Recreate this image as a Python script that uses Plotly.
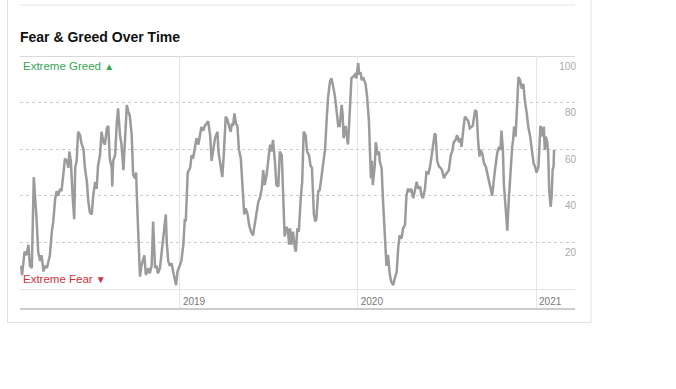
import plotly.graph_objects as go

# ---- data (CNN Fear & Greed index) ----
dates_2018 = ["2018-02-09","2018-02-11","2018-02-16","2018-02-20","2018-02-24","2018-02-27","2018-03-03","2018-03-07","2018-03-13","2018-03-16",
              "2018-03-20","2018-03-23","2018-03-27","2018-03-30","2018-04-03","2018-04-06","2018-04-09","2018-04-13","2018-04-16","2018-04-20",
              "2018-04-23","2018-04-26","2018-04-30","2018-05-03","2018-05-07","2018-05-10","2018-05-14","2018-05-17","2018-05-19","2018-05-22",
              "2018-05-26","2018-05-29","2018-05-31","2018-06-03","2018-06-06","2018-06-10","2018-06-13","2018-06-17","2018-06-20","2018-06-24",
              "2018-06-27","2018-06-30","2018-07-04","2018-07-07","2018-07-11","2018-07-14","2018-07-17","2018-07-21","2018-07-24","2018-07-28",
              "2018-07-31","2018-08-04","2018-08-07","2018-08-10","2018-08-14","2018-08-15","2018-08-17","2018-08-21","2018-08-24","2018-08-27",
              "2018-08-31","2018-09-03","2018-09-07","2018-09-10","2018-09-14","2018-09-17","2018-09-20","2018-09-24","2018-09-27","2018-10-01",
              "2018-10-03","2018-10-06","2018-10-09","2018-10-11","2018-10-14","2018-10-20","2018-10-23","2018-10-28","2018-10-31","2018-11-04",
              "2018-11-07","2018-11-11","2018-11-14","2018-11-17","2018-11-21","2018-11-24","2018-11-28","2018-12-03","2018-12-05","2018-12-08",
              "2018-12-11","2018-12-15","2018-12-18","2018-12-22","2018-12-24","2018-12-27"]
values_2018 = [10,6,16,14.5,19,10,9,48,29,16,
               12,14.5,7.5,10,9,12,14.5,24.5,29,39,
               42,40,43,42,52,56,55,52,59,55,
               39,30,52,55,67.5,66,62.5,60,52,46,
               37.5,33,32,40,46,43,53,57.5,67.5,63,
               62,69,70,56,52,44,55,57.5,70,77.5,
               66,62,51,62,79,76,74.5,66,49,47.5,
               50,32,14.5,5.3,10,14.5,6,9,6.7,10,
               29,9,10,6.7,9,14.5,23,32,20,12,
               10,11,7.5,3,1.7,7.5]

dates_2019 = ["2019-01-01","2019-01-04","2019-01-08","2019-01-11","2019-01-13","2019-01-17","2019-01-22","2019-01-25","2019-01-28","2019-02-01",
              "2019-02-04","2019-02-08","2019-02-11","2019-02-14","2019-02-18","2019-02-21","2019-02-28","2019-03-04","2019-03-07","2019-03-10",
              "2019-03-14","2019-03-19","2019-03-21","2019-03-24","2019-03-29","2019-04-01","2019-04-05","2019-04-08","2019-04-12","2019-04-15",
              "2019-04-18","2019-04-20","2019-04-23","2019-04-26","2019-04-29","2019-05-02","2019-05-06","2019-05-09","2019-05-11","2019-05-13",
              "2019-05-16","2019-05-20","2019-05-23","2019-05-27","2019-05-31","2019-06-04","2019-06-07","2019-06-11","2019-06-14","2019-06-18",
              "2019-06-21","2019-06-24","2019-06-28","2019-07-01","2019-07-05","2019-07-08","2019-07-11","2019-07-15","2019-07-18","2019-07-22",
              "2019-07-25","2019-07-29","2019-08-01","2019-08-04","2019-08-08","2019-08-11","2019-08-13","2019-08-15","2019-08-18","2019-08-21",
              "2019-08-25","2019-08-27","2019-08-30","2019-09-02","2019-09-06","2019-09-09","2019-09-12","2019-09-16","2019-09-19","2019-09-23",
              "2019-09-26","2019-09-29","2019-10-03","2019-10-06","2019-10-08","2019-10-12","2019-10-15","2019-10-19","2019-10-22","2019-10-26",
              "2019-10-29","2019-11-01","2019-11-05","2019-11-08","2019-11-11","2019-11-15","2019-11-18","2019-11-22","2019-11-25","2019-11-29",
              "2019-12-01","2019-12-03","2019-12-07","2019-12-10","2019-12-12","2019-12-16","2019-12-19","2019-12-22","2019-12-26","2019-12-29"]
values_2019 = [10,12,19,30,29,50,52,57.5,56,62,
               64.7,62,65,69.5,68,70,72,66,55,59,
               64.7,67.5,59,55,48,57.5,74,73,69,67.5,
               71,70,75.4,71,70,60,56,43,39,32,
               34.6,32,27.5,24.6,23,29,33,37.5,39,43,
               51,44.6,49,56,62,59,64,55,44.6,44,
               59,57.5,43,22.5,26.7,24.6,19,26,19,24.6,
               17.5,16,26,24.6,39,46,67.5,66,59,57.5,
               53,52,32,29,30,42,42.5,49,55,60,
               72,82,89,90.4,87.6,83,77.5,70,70,79,
               74.7,64.7,70,66,62,77.5,90.4,91,92,90.4]

dates_2020 = ["2020-01-02","2020-01-04","2020-01-07","2020-01-09","2020-01-13","2020-01-17","2020-01-20","2020-01-24","2020-01-26","2020-01-28",
              "2020-01-30","2020-02-01","2020-02-05","2020-02-07","2020-02-11","2020-02-14","2020-02-15","2020-02-19","2020-02-22","2020-02-26",
              "2020-02-29","2020-03-03","2020-03-07","2020-03-10","2020-03-14","2020-03-17","2020-03-21","2020-03-24","2020-03-27","2020-03-31",
              "2020-04-03","2020-04-07","2020-04-10","2020-04-13","2020-04-17","2020-04-20","2020-04-24","2020-04-27","2020-05-01","2020-05-04",
              "2020-05-08","2020-05-11","2020-05-14","2020-05-18","2020-05-21","2020-05-25","2020-05-28","2020-06-01","2020-06-04","2020-06-07",
              "2020-06-09","2020-06-12","2020-06-16","2020-06-19","2020-06-22","2020-06-26","2020-06-29","2020-07-03","2020-07-06","2020-07-10",
              "2020-07-13","2020-07-16","2020-07-20","2020-07-23","2020-07-27","2020-07-30","2020-08-01","2020-08-05","2020-08-08","2020-08-12",
              "2020-08-15","2020-08-18","2020-08-24","2020-08-29","2020-09-01","2020-09-04","2020-09-07","2020-09-09","2020-09-13","2020-09-16",
              "2020-09-20","2020-09-23","2020-09-26","2020-09-30","2020-10-03","2020-10-07","2020-10-10","2020-10-13","2020-10-17","2020-10-20",
              "2020-10-22","2020-10-25","2020-10-27","2020-10-31","2020-11-03","2020-11-06","2020-11-10","2020-11-13","2020-11-15","2020-11-17",
              "2020-11-20","2020-11-24","2020-11-26","2020-11-29","2020-12-03","2020-12-06","2020-12-09","2020-12-13","2020-12-16","2020-12-20",
              "2020-12-23","2020-12-27","2020-12-30"]
values_2020 = [97,92,93,89.7,90.4,88,83,72,60,47.5,
               55,44.6,53,63,57.5,59,55,52,37.5,23,
               10,14.6,6,3,1.7,4.6,7.4,17.5,23,21.7,
               26,27.5,40,43,42,43,39,42,46,43,
               44,40,39,43,50,49.6,52,57.5,63,66.8,
               66,55,52.5,52,51,47.5,49,50,51,57.5,
               59,63,64,66,63,64.7,61,69,74,73,
               72,69,70,76.8,76,64,56.8,59.7,58,54,
               52.5,49.6,46.8,44,40,48,54,58,61,59.7,
               68,59.7,45,34,25,38,52.5,61,64,69.7,
               65.4,79.7,91,89.7,86,88,81,75.4,69.7,65.4,
               59.7,54,52.5]

dates_2021 = ["2021-01-02","2021-01-06","2021-01-08","2021-01-10","2021-01-13","2021-01-15","2021-01-17","2021-01-19","2021-01-21","2021-01-24",
              "2021-01-26","2021-01-28","2021-01-31","2021-02-02","2021-02-04","2021-02-06","2021-02-07"]
values_2021 = [50,52.5,59.7,70,68,65.4,69.7,59.7,65.4,63,
               58,42.5,35.3,39.6,51,52.5,59.7]

year_ticks = ["2019-01-01", "2020-01-01", "2021-01-01"]
year_labels = ["2019", "2020", "2021"]
value_ticks = [20, 40, 60, 80, 100]

dates = dates_2018 + dates_2019 + dates_2020 + dates_2021
values = values_2018 + values_2019 + values_2020 + values_2021

fig = go.Figure(go.Scatter(
    x=dates, y=values, mode="lines",
    line=dict(color="#9b9b9b", width=2.5),
    hoverinfo="skip",
))

fig.update_layout(
    width=676, height=389,
    margin=dict(l=20, r=101, t=56, b=81),
    paper_bgcolor="white", plot_bgcolor="white",
    showlegend=False,
    font=dict(family="Liberation Sans, Arial, sans-serif"),
    title=dict(text="<b>Fear &amp; Greed Over Time</b>", x=20/676, xanchor="left",
               y=1-37/389, yanchor="middle", font=dict(size=14, color="#111111")),
)

fig.update_xaxes(
    type="date", range=["2018-02-06 17:00", "2021-03-22"],
    tickvals=year_ticks, ticktext=year_labels,
    showgrid=True, gridcolor="#e6e6e6", gridwidth=1,
    ticklabelposition="inside right", ticks="",
    ticklabelstandoff=-3, ticklabelshift=2,
    tickfont=dict(size=10, color="#777777"),
    showline=True, linecolor="#cccccc", linewidth=2,
    zeroline=False, fixedrange=True,
)
fig.update_yaxes(
    range=[-8.15, 100], tickvals=value_ticks,
    side="right", ticklabelposition="inside", ticks="",
    ticklabelshift=10, ticklabelstandoff=-4,
    tickfont=dict(size=10, color="#aaaaaa"),
    showgrid=True, gridcolor="#cccccc", gridwidth=1, griddash="dot",
    zeroline=True, zerolinecolor="#e6e6e6", zerolinewidth=1,
    showline=False, fixedrange=True,
)

# card frame and separator lines
fig.add_shape(type="rect", xref="paper", yref="paper",
              x0=(7.5-20)/555, x1=(591-20)/555, y0=(308-322.5)/252, y1=(308+5)/252,
              line=dict(color="#e2e2e2", width=1), fillcolor="rgba(0,0,0,0)", layer="below")
fig.add_shape(type="line", xref="paper", yref="paper",
              x0=0, x1=1, y0=(308-5)/252, y1=(308-5)/252,
              line=dict(color="#e2e2e2", width=1))
fig.add_shape(type="line", xref="paper", yref="y",
              x0=0, x1=1, y0=100, y1=100,
              line=dict(color="#cccccc", width=1.5), layer="below")

fig.add_annotation(text="Extreme Greed <span style='font-size:10px'>▲</span>",
                   xref="paper", yref="paper", x=0, y=(308-66)/252,
                   xanchor="left", yanchor="middle", xshift=1, showarrow=False,
                   font=dict(size=11.5, color="#36a657"))
fig.add_annotation(text="Extreme Fear <span style='font-size:10px'>▼</span>",
                   xref="paper", yref="paper", x=0, y=(308-279)/252,
                   xanchor="left", yanchor="middle", xshift=1, showarrow=False,
                   font=dict(size=11.5, color="#d0313d"))

fig.write_html("out.html",
               config={"displayModeBar": False},
               post_script="document.body.style.margin='0';document.body.style.overflow='hidden';")
